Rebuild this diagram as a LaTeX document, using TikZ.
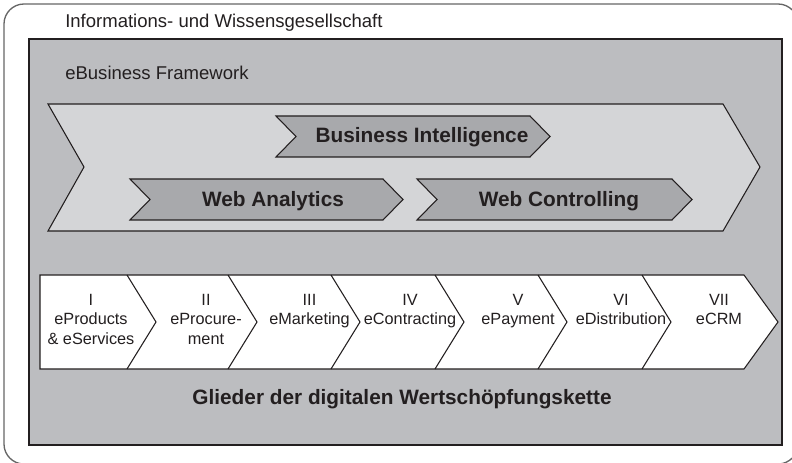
\documentclass[tikz,border=0pt]{standalone}
\usepackage{fontspec}
\setmainfont{Liberation Sans}
\definecolor{framegray}{HTML}{BCBDC0}
\definecolor{arrowgray}{HTML}{D4D5D7}
\definecolor{bladegray}{HTML}{A8A9AC}
\definecolor{inkgray}{HTML}{231F20}
\begin{document}
\begin{tikzpicture}[x=0.75pt, y=-0.75pt,
        outline/.style={draw=inkgray, line width=0.8pt},
        plaintext/.style={font=\fontsize{13.9}{16}\selectfont, text=inkgray, inner sep=0pt, anchor=base west},
        boldtext/.style={font=\bfseries\fontsize{15.6}{18}\selectfont, text=inkgray, inner sep=0pt, anchor=base},
        linktext/.style={font=\fontsize{12.2}{14.6}\selectfont, align=center, text=inkgray, inner sep=0pt, anchor=north}]
        \useasboundingbox (0,0) rectangle (792,463);
        % society and framework
        \draw[draw=gray!80!black, line width=1pt, rounded corners=15pt] (4,4) rectangle (798,464);
        \filldraw[fill=framegray, outline, line width=0.9pt] (29,39) rectangle (782,445);
        \node[plaintext] (society) at (65,28) {Informations- und Wissensgesellschaft};
        \node[plaintext] (framework) at (65,80) {eBusiness Framework};
        % big arrow with the three blades
        \filldraw[fill=arrowgray, outline] (48,104) -- (723,104) -- (760,167) -- (723,231) -- (48,231) -- (84,167) -- cycle;
        \foreach \l/\r/\y in {276/530/136.5, 130/383/199.5, 417/672/199.5}
            \filldraw[fill=bladegray, outline] (\l,\y-20.5) -- (\r,\y-20.5) -- (\r+20,\y) -- (\r,\y+20.5) -- (\l,\y+20.5) -- (\l+20,\y) -- cycle;
        \node[boldtext] (intel) at (422,143) {Business Intelligence};
        \node[boldtext] (analytics) at (273,207) {Web Analytics};
        \node[boldtext] (controlling) at (559,207) {Web Controlling};
        % value chain
        \filldraw[fill=white, outline] (40,275) -- (744,275) -- (778,322) -- (744,369) -- (40,369) -- cycle;
        \foreach \x in {127,228,331,435,538,642}
            \draw[outline] (\x,275) -- (\x+29,322) -- (\x,369);
        \foreach \x/\txt [count=\i] in {91/{I\\eProducts\\\& eServices}, 206/{II\\eProcure-\\ment}, 309.5/{III\\eMarketing},
                410/{IV\\eContracting}, 518/{V\\ePayment}, 621/{VI\\eDistribution}, 719/{VII\\eCRM}}
            \node[linktext] (link\i) at (\x,294) {\txt};
        \node[boldtext] (chain) at (402,404) {Glieder der digitalen Wertschöpfungskette};
\end{tikzpicture}
\end{document}
